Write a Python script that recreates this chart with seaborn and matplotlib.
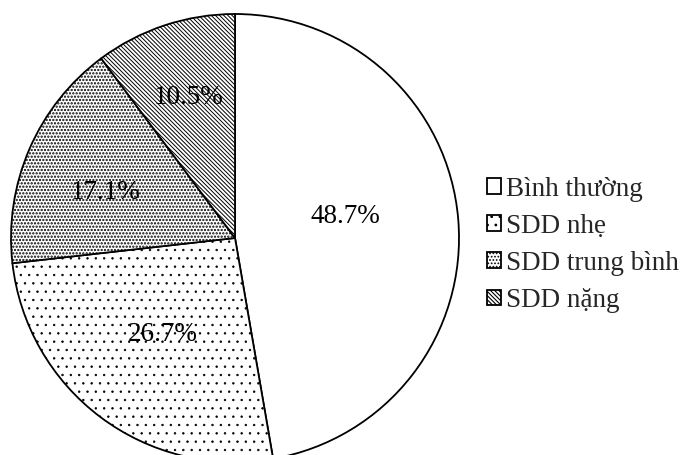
import matplotlib
matplotlib.use('Agg')
import matplotlib.pyplot as plt
import seaborn as sns
import numpy as np

categories = ['Bình thường', 'SDD nhẹ', 'SDD trung bình', 'SDD nặng']
values = [48.7, 26.7, 17.1, 10.5]
pct_labels = ['48.7%', '26.7%', '17.1%', '10.5%']

sns.set_theme(style='white')
plt.rcParams['font.family'] = ['Liberation Serif', 'DejaVu Serif']
plt.rcParams['hatch.linewidth'] = 0.8
plt.rcParams['hatch.color'] = 'black'

hatches = ['', '..', '.....', '\\' * 8]
hatch_lw = [0.8, 0.5, 1.1, 0.7]
label_dist = [0.5, 0.54, 0.615, 0.66]
label_rot = [6, 0, 4, 0]

fig = plt.figure(figsize=(6.84, 4.55), dpi=100)
ax = fig.add_axes([0.01608, -0.01538, 0.655, 0.9846])
wedges, _ = ax.pie(values, startangle=90, counterclock=False,
                   colors=['white'] * len(values),
                   wedgeprops=dict(edgecolor='black', linewidth=1.3))
for w, h, lw in zip(wedges, hatches, hatch_lw):
    w.set_hatch(h)
    if hasattr(w, 'set_hatch_linewidth'):
        w.set_hatch_linewidth(lw)
for w, lab, d, r in zip(wedges, pct_labels, label_dist, label_rot):
    ang = np.deg2rad((w.theta1 + w.theta2) / 2 + r)
    ax.text(d * np.cos(ang), d * np.sin(ang), lab, ha='center', va='center',
            fontsize=19.5, color='black')
ax.set_xlim(-1, 1)
ax.set_ylim(-1, 1)
ax.set_aspect('equal')

fig.legend(wedges, categories, loc='center left',
           bbox_to_anchor=(487 / 684, 0.462), frameon=False,
           fontsize=19.5, handlelength=0.52, handleheight=0.52,
           handletextpad=0.2, labelspacing=0.45, borderpad=0, borderaxespad=0)

fig.savefig('out.png', dpi=100)
